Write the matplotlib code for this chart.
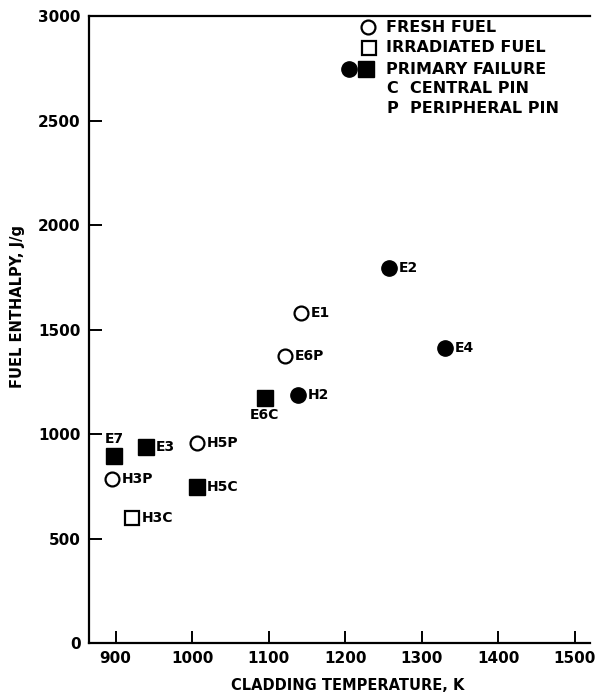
import matplotlib
matplotlib.use("Agg")
import matplotlib.pyplot as plt

# Test rods: cladding temperature (K), fuel enthalpy (J/g), marker class
labels = ["E7", "E3", "H3P", "H3C", "H5P", "H5C", "E6C", "H2", "E6P", "E1", "E2", "E4"]
temps = [898, 940, 895, 922, 1007, 1007, 1095, 1138, 1121, 1142, 1257, 1331]
enthalpy = [895, 938, 785, 598, 957, 746, 1172, 1187, 1373, 1579, 1794, 1411]
# kind: 'fc' fresh fuel, 'ic' irradiated fuel, 'pf_c' primary failure (circle), 'pf_s' primary failure (square)
kinds = ["pf_s", "pf_s", "fc", "ic", "fc", "pf_s", "pf_s", "pf_c", "fc", "fc", "pf_c", "pf_c"]
# label placement relative to the marker
label_pos = ["above", "right", "right", "right", "right", "right", "below", "right", "right", "right", "right", "right"]

x_ticks = [900, 1000, 1100, 1200, 1300, 1400, 1500]
y_ticks = [0, 500, 1000, 1500, 2000, 2500, 3000]

plt.rcParams["font.family"] = ["DejaVu Sans"]
FS = 10

fig = plt.figure(figsize=(5.96, 6.96), dpi=100)
ax = fig.add_axes([0.149, 0.076, 0.841, 0.901])

style = {
    "fc": dict(marker="o", mfc="white", mec="black", ms=10, mew=1.6),
    "ic": dict(marker="s", mfc="white", mec="black", ms=10, mew=1.6),
    "pf_c": dict(marker="o", mfc="black", mec="black", ms=11, mew=1.0),
    "pf_s": dict(marker="s", mfc="black", mec="black", ms=11, mew=1.0),
}

for lab, x, y, k, pos in zip(labels, temps, enthalpy, kinds, label_pos):
    ax.plot([x], [y], linestyle="none", **style[k])
    if pos == "right":
        ax.annotate(lab, (x, y), xytext=(7, 0), textcoords="offset points",
                    ha="left", va="center", fontsize=FS, fontweight="bold")
    elif pos == "above":
        ax.annotate(lab, (x, y), xytext=(0, 7), textcoords="offset points",
                    ha="center", va="bottom", fontsize=FS, fontweight="bold")
    else:
        ax.annotate(lab, (x, y), xytext=(0, -7), textcoords="offset points",
                    ha="center", va="top", fontsize=FS, fontweight="bold")

ax.set_xlim(865, 1520)
ax.set_ylim(0, 3000)
ax.set_xticks(x_ticks)
ax.set_yticks(y_ticks)
ax.tick_params(direction="in", length=9, width=1.4, labelsize=FS + 1, pad=6)
for t in ax.get_xticklabels() + ax.get_yticklabels():
    t.set_fontweight("bold")

ax.spines["right"].set_visible(False)
for s in ("left", "bottom", "top"):
    ax.spines[s].set_linewidth(1.6)

ax.set_xlabel("CLADDING TEMPERATURE, K", fontsize=10.5, fontweight="bold", labelpad=8)
ax.xaxis.set_label_coords(0.517, -0.055)
ax.set_ylabel("FUEL ENTHALPY, J/g", fontsize=10.5, fontweight="bold")
ax.yaxis.set_label_coords(-0.128, 0.537)

# key in the upper right corner
tr = ax.transAxes
ax.plot([0.557], [0.982], transform=tr, linestyle="none", **style["fc"], clip_on=False)
ax.plot([0.559], [0.949], transform=tr, linestyle="none", **style["ic"], clip_on=False)
ax.plot([0.519], [0.915], transform=tr, linestyle="none", **style["pf_c"], clip_on=False)
ax.plot([0.553], [0.915], transform=tr, linestyle="none", **style["pf_s"], clip_on=False)
key_text = ["FRESH FUEL", "IRRADIATED FUEL", "PRIMARY FAILURE", "C  CENTRAL PIN", "P  PERIPHERAL PIN"]
key_y = [0.982, 0.949, 0.915, 0.885, 0.852]
key_x = [0.593, 0.593, 0.593, 0.595, 0.595]
for t, xx, yy in zip(key_text, key_x, key_y):
    ax.text(xx, yy, t, transform=tr, ha="left", va="center", fontsize=11.5, fontweight="bold")

fig.savefig("out.png", dpi=100)
